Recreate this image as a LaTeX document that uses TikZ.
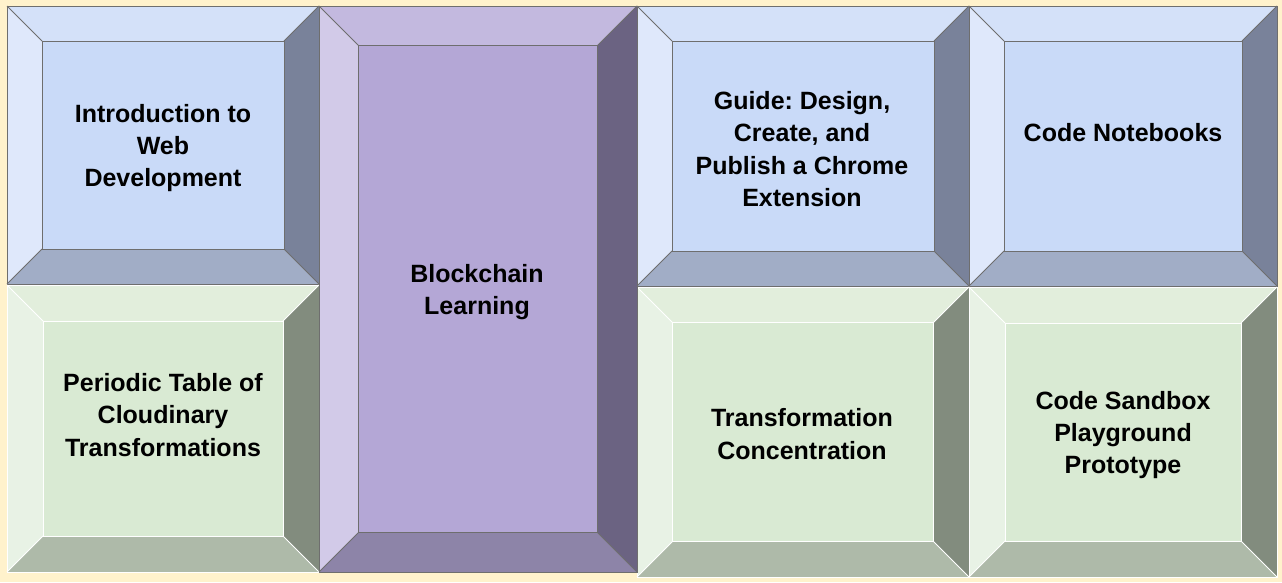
\documentclass[tikz,border=0pt]{standalone}
\usepackage{fontspec}
\setmainfont{Liberation Sans}
\frenchspacing
\definecolor{bg}{HTML}{FFF2CC}
\definecolor{blueF}{HTML}{C9DAF8}
\definecolor{blueT}{HTML}{D4E1F9}
\definecolor{blueL}{HTML}{DFE8FB}
\definecolor{blueB}{HTML}{A1ADC6}
\definecolor{blueR}{HTML}{79829A}
\definecolor{purpleF}{HTML}{B4A7D6}
\definecolor{purpleT}{HTML}{C3B9DF}
\definecolor{purpleL}{HTML}{D2CAE8}
\definecolor{purpleB}{HTML}{8D84A8}
\definecolor{purpleR}{HTML}{6B6382}
\definecolor{greenF}{HTML}{D9EAD3}
\definecolor{greenT}{HTML}{E2EEDC}
\definecolor{greenL}{HTML}{E8F2E5}
\definecolor{greenB}{HTML}{AEBAA9}
\definecolor{greenR}{HTML}{828C7E}
\definecolor{edgegrey}{HTML}{6E6E6E}
% #1 x1, #2 y1, #3 x2, #4 y2, #5 bevel, #6 palette, #7 edge colour
\newcommand\bevbox[7]{%
  \fill[#6T] (#1,#2) -- (#3,#2) -- (#3-#5,#2+#5) -- (#1+#5,#2+#5) -- cycle;
  \fill[#6L] (#1,#2) -- (#1+#5,#2+#5) -- (#1+#5,#4-#5) -- (#1,#4) -- cycle;
  \fill[#6B] (#1,#4) -- (#1+#5,#4-#5) -- (#3-#5,#4-#5) -- (#3,#4) -- cycle;
  \fill[#6R] (#3,#2) -- (#3,#4) -- (#3-#5,#4-#5) -- (#3-#5,#2+#5) -- cycle;
  \fill[#6F] (#1+#5,#2+#5) rectangle (#3-#5,#4-#5);
  \draw[edge,#7] (#1,#2) rectangle (#3,#4);
  \draw[edge,#7] (#1+#5,#2+#5) rectangle (#3-#5,#4-#5);
  \draw[edge,#7] (#1,#2) -- (#1+#5,#2+#5);
  \draw[edge,#7] (#3,#2) -- (#3-#5,#2+#5);
  \draw[edge,#7] (#1,#4) -- (#1+#5,#4-#5);
  \draw[edge,#7] (#3,#4) -- (#3-#5,#4-#5);
}
\tikzset{
  edge/.style={line width=1pt, line join=miter},
  lbl/.style={align=center, inner sep=0pt, text=black,
    font=\bfseries\fontsize{25}{32.4}\selectfont}
}
\begin{document}
\begin{tikzpicture}[x=1pt,y=-1pt]
\fill[bg] (0,0) rectangle (1282,582);
\useasboundingbox (0,0) rectangle (1282,582);
% blue boxes
\bevbox{7}{6}{319}{284}{35}{blue}{edgegrey}
\bevbox{637}{6}{969}{286}{35}{blue}{edgegrey}
\bevbox{969}{6}{1277}{286}{35}{blue}{edgegrey}
% green boxes
\bevbox{7}{285}{319}{572}{36}{green}{white}
\bevbox{637}{287}{969}{577}{35.5}{green}{white}
\bevbox{969}{287}{1277}{577}{36}{green}{white}
% purple box
\bevbox{319}{6}{637}{572}{39.5}{purple}{edgegrey}
% labels
\node[lbl] (web) at (163,148) {Introduction to\\Web\\Development};
\node[lbl] (periodic) at (163,415) {Periodic Table of\\Cloudinary\\Transformations};
\node[lbl] (block) at (477,292) {Blockchain\\Learning};
\node[lbl] (guide) at (802,149) {Guide: Design,\\Create, and\\Publish a Chrome\\Extension};
\node[lbl] (notebooks) at (1123,133) {Code Notebooks};
\node[lbl] (transf) at (802,434) {Transformation\\Concentration};
\node[lbl] (sandbox) at (1123,435) {Code Sandbox\\Playground\\Prototype};
\end{tikzpicture}
\end{document}
